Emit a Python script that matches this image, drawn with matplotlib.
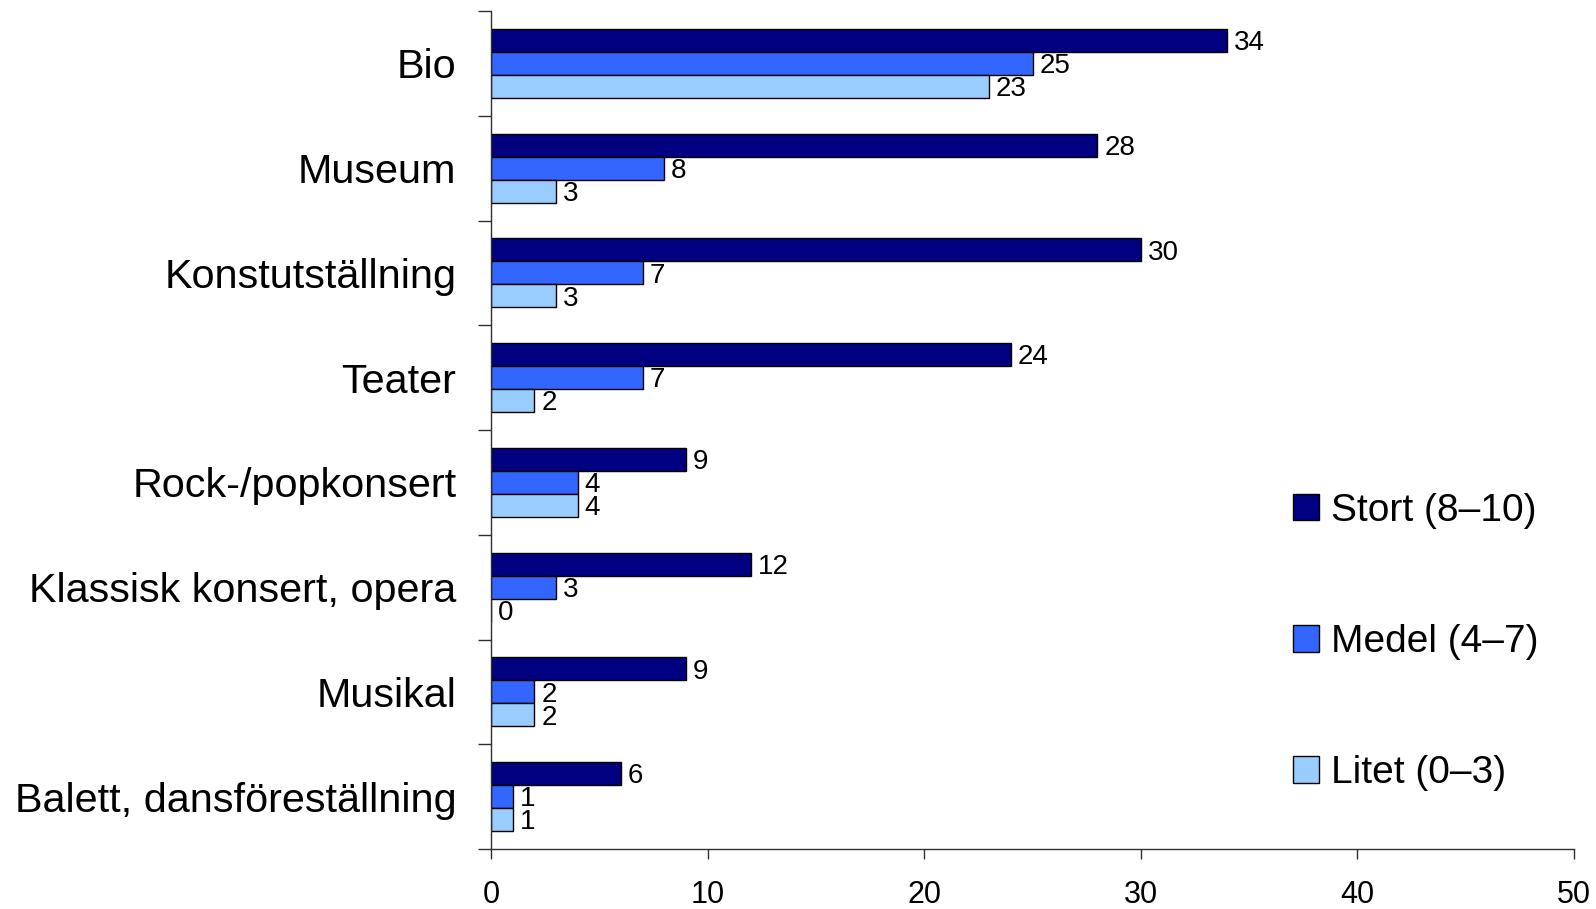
import numpy as np
from matplotlib import pyplot as plt

plt.rcParams['font.family'] = ['Liberation Sans', 'DejaVu Sans']

# data, top to bottom as in the chart
categories = ['Bio', 'Museum', 'Konstutställning', 'Teater', 'Rock-/popkonsert',
              'Klassisk konsert, opera', 'Musikal', 'Balett, dansföreställning']
stort = [34, 28, 30, 24, 9, 12, 9, 6]
medel = [25, 8, 7, 7, 4, 3, 2, 1]
litet = [23, 3, 3, 2, 4, 0, 2, 1]
series_names = ['Stort (8–10)', 'Medel (4–7)', 'Litet (0–3)']
colors = ['#000080', '#3366FF', '#99CCFF']

fig = plt.figure(figsize=(15.96, 9.09), dpi=100)
ax = fig.add_axes([491/1596, 1 - 849/909, (1574 - 491)/1596, (849 - 11)/909])

n = len(categories)
centers = n - np.arange(n) - 0.5
h = 0.22

for k, (vals, name, col) in enumerate(zip([stort, medel, litet], series_names, colors)):
    bars = ax.barh(centers + (1 - k) * h, vals, height=h, color=col,
                   edgecolor='black', linewidth=1.0, label=name)
    lbls = ax.bar_label(bars, labels=[str(v) for v in vals], padding=5, fontsize=20)
    # nudge value labels down a touch (offset points)
    for t in lbls:
        t.xyann = (t.xyann[0], -2)

ax.set_xlim(0, 50)
ax.set_ylim(0, n)
ax.set_xticks(np.arange(0, 51, 10))
ax.set_yticks(centers)
ax.set_yticklabels(categories, fontsize=29.8)
ax.set_yticks(np.arange(0, n + 1), minor=True)
ax.tick_params(axis='y', which='major', length=0, pad=25)
ax.tick_params(axis='y', which='minor', length=9.5, width=1, color='#303030')
ax.tick_params(axis='x', labelsize=22, length=7, width=1, color='#303030', pad=15)

for s in ['top', 'right']:
    ax.spines[s].set_visible(False)
for s in ['left', 'bottom']:
    ax.spines[s].set_color('#303030')
    ax.spines[s].set_linewidth(1)

leg = fig.legend(loc='center left', bbox_to_anchor=(1293/1596, 1 - 642/909),
                 frameon=False, fontsize=28, handlelength=0.67, handleheight=0.67,
                 handletextpad=0.3, labelspacing=2.45, borderpad=0, borderaxespad=0)

fig.savefig('out.png', dpi=100)
